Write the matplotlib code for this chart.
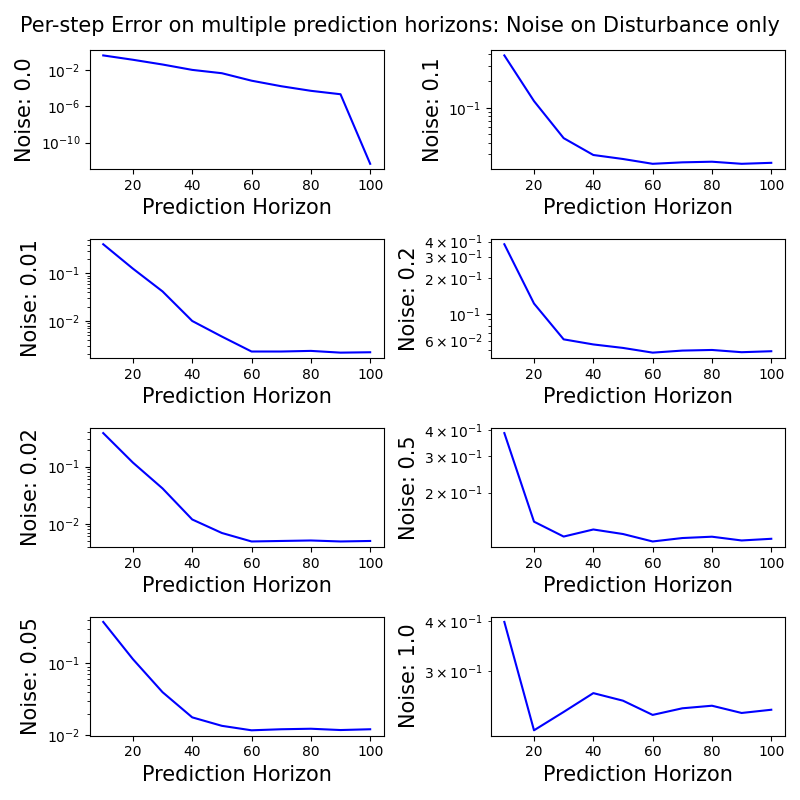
import matplotlib
matplotlib.use("Agg")
import matplotlib.pyplot as plt

# 예측 구간 (x축)
horizons = [10, 20, 30, 40, 50, 60, 70, 80, 90, 100]

# 노이즈 레벨 (왼쪽 열 위->아래, 오른쪽 열 위->아래)
noise_levels = [0.0, 0.01, 0.02, 0.05, 0.1, 0.2, 0.5, 1.0]

# 노이즈별 스텝당 오차
err_00 = [0.39, 0.13, 0.039, 0.01, 0.0043, 6.5e-4, 1.6e-4, 5e-5, 2.1e-5, 4.7e-13]
err_001 = [0.41, 0.126, 0.0418, 0.01, 0.0047, 0.00228, 0.00228, 0.00235, 0.00216, 0.0022]
err_002 = [0.388, 0.118, 0.0416, 0.0119, 0.0069, 0.0049, 0.0050, 0.0051, 0.0049, 0.0050]
err_005 = [0.375, 0.114, 0.0396, 0.0177, 0.0135, 0.0117, 0.0121, 0.0123, 0.0118, 0.0121]
err_01 = [0.39, 0.119, 0.0454, 0.0293, 0.0264, 0.0233, 0.0242, 0.0246, 0.0233, 0.0239]
err_02 = [0.38, 0.122, 0.0614, 0.0557, 0.0521, 0.0476, 0.0495, 0.0501, 0.0480, 0.0489]
err_05 = [0.386, 0.145, 0.123, 0.133, 0.1265, 0.1165, 0.121, 0.1228, 0.1178, 0.120]
err_10 = [0.398, 0.2143, 0.238, 0.265, 0.2538, 0.234, 0.243, 0.2466, 0.2366, 0.241]

errors = [err_00, err_001, err_002, err_005, err_01, err_02, err_05, err_10]

# 노이즈 0.0 패널의 주 눈금
ticks_00 = [1e-2, 1e-6, 1e-10]

fig, axes = plt.subplots(4, 2, figsize=(8, 8))

for i, (noise, err) in enumerate(zip(noise_levels, errors)):
    ax = axes[i % 4, i // 4]
    ax.plot(horizons, err, color="blue")
    ax.set_yscale("log")
    ax.set_xlabel("Prediction Horizon", fontsize=15)
    ax.set_ylabel(f"Noise: {noise}", fontsize=15)

axes[0, 0].set_yticks(ticks_00)

fig.suptitle("Per-step Error on multiple prediction horizons: Noise on Disturbance only", fontsize=15)
plt.tight_layout()
plt.savefig("out.png", dpi=100)
